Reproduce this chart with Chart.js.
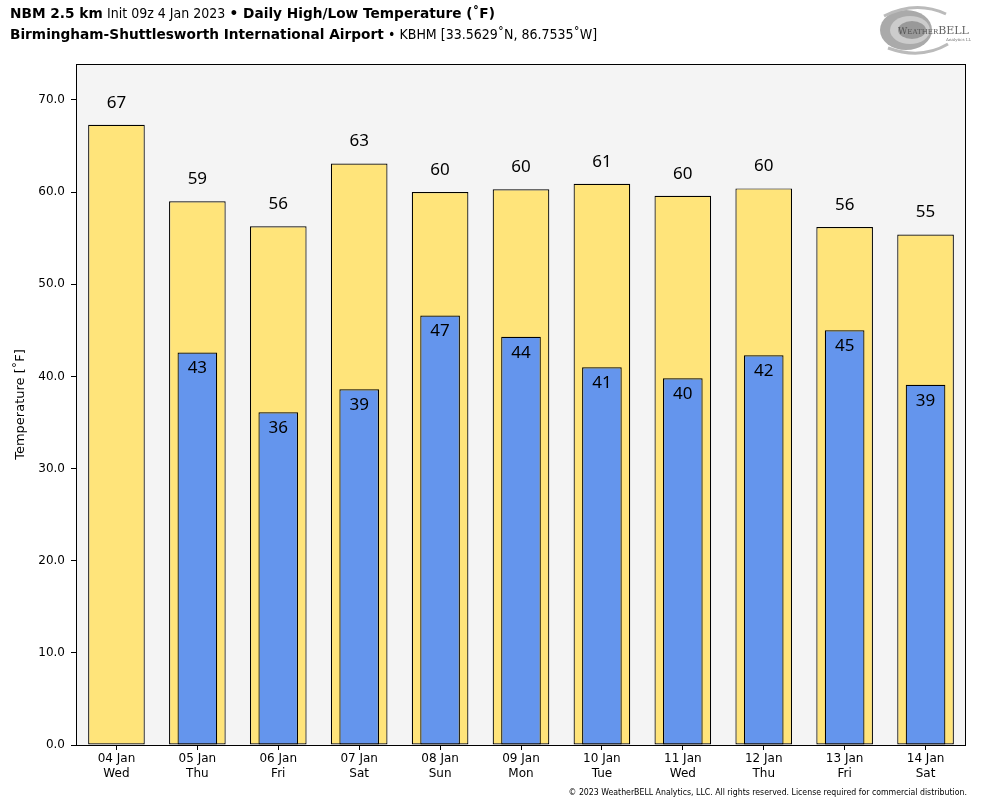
<!DOCTYPE html>
<html><head><meta charset="utf-8">
<script src="https://cdn.jsdelivr.net/npm/chart.js@4"></script>
<style>
html,body{margin:0;padding:0;background:#fff;}
#wrap{position:relative;width:984px;height:808px;font-family:"DejaVu Sans",sans-serif;}
#c{position:absolute;left:0;top:0;}
.t{position:absolute;left:10px;font-size:13.7px;color:#000;white-space:nowrap;}
.b{font-weight:bold;}
.n{font-family:"DejaVu Sans Condensed","DejaVu Sans",sans-serif;font-size:14px;}
#foot{position:absolute;right:17px;top:787px;font-size:8.7px;font-family:"DejaVu Sans Condensed","DejaVu Sans",sans-serif;}
#logo{position:absolute;left:876px;top:4px;}
</style></head>
<body><div id="wrap">
<canvas id="c" width="984" height="808"></canvas>
<div class="t" style="top:5px"><span class="b">NBM 2.5 km</span> <span class="n">Init 09z 4 Jan 2023</span> <span class="b">• Daily High/Low Temperature (˚F)</span></div>
<div class="t" style="top:26px"><span class="b">Birmingham-Shuttlesworth International Airport</span> <span class="n">• KBHM [33.5629˚N, 86.7535˚W]</span></div>
<div id="foot">© 2023 WeatherBELL Analytics, LLC. All rights reserved. License required for commercial distribution.</div>
<svg id="logo" width="95" height="52" viewBox="0 0 95 52">
<ellipse cx="30" cy="26" rx="26" ry="20" fill="#aaa"/>
<ellipse cx="34" cy="26" rx="20" ry="14" fill="#ccc"/>
<ellipse cx="36" cy="26" rx="14" ry="9" fill="#999"/>
<path d="M8 12 Q40 -4 70 10" stroke="#bbb" stroke-width="3" fill="none"/>
<path d="M12 44 Q45 56 72 40" stroke="#bbb" stroke-width="3" fill="none"/>
<text x="22" y="30" font-family="DejaVu Serif" font-size="9" fill="#555">W<tspan font-size="7">EATHER</tspan><tspan font-size="11" fill="#666">BELL</tspan></text>
<text x="70" y="37" font-family="DejaVu Serif" font-size="4" fill="#777">Analytics LLC</text>
</svg>
</div>
<script>
const dates = ["04 Jan","05 Jan","06 Jan","07 Jan","08 Jan","09 Jan","10 Jan","11 Jan","12 Jan","13 Jan","14 Jan"];
const days = ["Wed","Thu","Fri","Sat","Sun","Mon","Tue","Wed","Thu","Fri","Sat"];
const highs = [67.3,59.0,56.3,63.1,60.0,60.3,60.9,59.6,60.4,56.2,55.4];
const lows = [null,42.6,36.1,38.6,46.6,44.3,41.0,39.8,42.3,45.0,39.1];
const yTicks = [0,10,20,30,40,50,60,70];

const labels = dates.map((d,i)=>[d, days[i]]);

const framePlugin = {
  id:'frame',
  beforeDatasetsDraw(chart){
    const a = chart.chartArea, ctx = chart.ctx;
    ctx.save(); ctx.fillStyle='#f4f4f4';
    ctx.fillRect(a.left,a.top,a.right-a.left,a.bottom-a.top); ctx.restore();
  },
  afterDatasetsDraw(chart){
    const a = chart.chartArea, ctx = chart.ctx;
    ctx.save();
    ctx.strokeStyle='#000'; ctx.lineWidth=1;
    ctx.strokeRect(a.left+0.5,a.top+0.5,a.right-a.left-1,a.bottom-a.top);
    ctx.font='17px "Noto Sans"'; ctx.fillStyle='#000';
    ctx.textAlign='center'; ctx.textBaseline='middle';
    chart.data.datasets.forEach((ds,di)=>{
      const meta = chart.getDatasetMeta(di);
      meta.data.forEach((el,i)=>{
        const v = ds.data[i];
        if(v==null) return;
        const txt = String(Math.round(v));
        if(ds.kind==='high') ctx.fillText(txt, el.x, el.y-22);
        else ctx.fillText(txt, el.x, el.y+16);
      });
    });
    ctx.restore();
  }
};

new Chart(document.getElementById('c'), {
  type:'bar',
  data:{
    labels: labels,
    datasets:[
      {kind:'low', data: lows, backgroundColor:'#6495ED', borderColor:'#000', borderWidth:1.2,
       barPercentage:0.49, categoryPercentage:1, grouped:false, order:0, borderSkipped:false},
      {kind:'high', data: highs, backgroundColor:'#FFE47A', borderColor:'#000', borderWidth:1.2,
       barPercentage:0.70, categoryPercentage:1, grouped:false, order:1, borderSkipped:false}
    ]
  },
  options:{
    responsive:false, animation:false, devicePixelRatio:1,
    layout:{padding:{left:0,right:18,top:64,bottom:0}},
    plugins:{legend:{display:false}, tooltip:{enabled:false}, title:{display:false}},
    scales:{
      x:{
        grid:{display:true, drawOnChartArea:false, drawTicks:true, tickLength:5, color:'#000', offset:false},
        border:{display:false},
        ticks:{color:'#000', font:{family:'"DejaVu Sans"', size:12}, padding:2, maxRotation:0, autoSkip:false},
        afterFit(s){ s.height = 808-745; }
      },
      y:{
        min:0, max:73.9,
        afterBuildTicks(s){ s.ticks = yTicks.map(v=>({value:v})); },
        grid:{display:true, drawOnChartArea:false, drawTicks:true, tickLength:5, color:'#000'},
        border:{display:false},
        ticks:{color:'#000', font:{family:'"DejaVu Sans"', size:12}, padding:6, callback:v=>Number(v).toFixed(1)},
        title:{display:true, text:'Temperature [˚F]', color:'#000', font:{family:'"DejaVu Sans"', size:13}, padding:{top:13,bottom:4}},
        afterFit(s){ s.width = 76; }
      }
    }
  },
  plugins:[framePlugin]
});
</script>
</body></html>
